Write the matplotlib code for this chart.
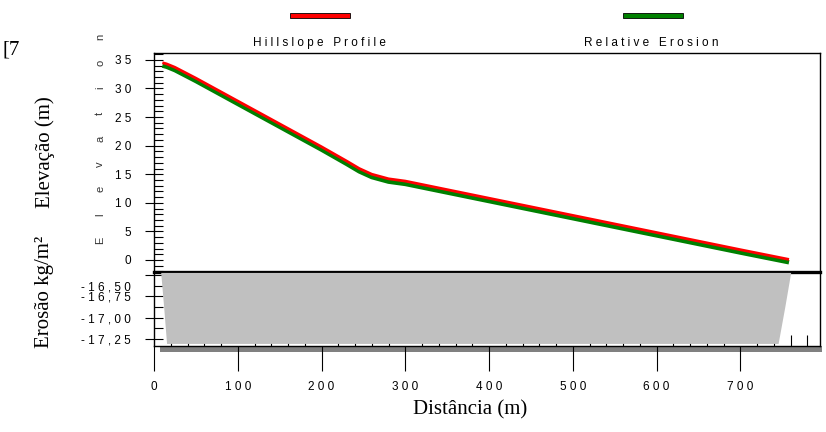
import matplotlib
matplotlib.use('Agg')
import matplotlib.pyplot as plt
from matplotlib.patches import Rectangle
from matplotlib.ticker import FixedLocator, MultipleLocator, FixedFormatter
from matplotlib.transforms import ScaledTranslation

# hillslope profile (distance m, elevation m)
dist = [10, 15, 25, 50, 100, 150, 200, 230, 245, 260, 280, 300, 400, 500, 600, 700, 758]
profile = [34.5, 34.3, 33.7, 31.8, 27.8, 23.8, 19.8, 17.3, 16.0, 15.0, 14.2, 13.8, 10.8, 7.8, 4.8, 1.8, 0.1]
rel_erosion = [34.0, 33.8, 33.2, 31.3, 27.3, 23.3, 19.3, 16.8, 15.5, 14.5, 13.7, 13.3, 10.3, 7.3, 4.3, 1.3, -0.4]

# erosion band in lower panel
ero_y = [-16.47, -16.87, -17.30]
ero_left = [8, 11.5, 15]
ero_right = [760, 753, 745]

elev_ticks = [0, 5, 10, 15, 20, 25, 30, 35]
ero_ticks = [-17.25, -17.0, -16.75, -16.5]
ero_labels = ['-17,25', '-17,00', '-16,75', '-16,50']
dist_ticks = [0, 100, 200, 300, 400, 500, 600, 700]

NARROW = ['Liberation Sans Narrow', 'Liberation Sans', 'DejaVu Sans']
SERIF = ['Liberation Serif', 'DejaVu Serif']
W, H = 826, 432
TICK_FS = 8.5


def spaced(s, gap=' '):
    return gap.join(list(s))


def fx(px):
    return px / W


def fy(py):
    return 1 - py / H


fig = plt.figure(figsize=(8.26, 4.32), dpi=100)

ax_top = fig.add_axes([fx(154), fy(272), (820 - 154) / W, (272 - 53) / H])
ax_bot = fig.add_axes([fx(154), fy(346), (820 - 154) / W, (346 - 272) / H])

# --- upper panel
ax_top.plot(dist, rel_erosion, color='#008000', lw=3.2, solid_capstyle='butt')
ax_top.plot(dist, profile, color='#ff0000', lw=2.0, solid_capstyle='butt')
ax_top.set_xlim(0, 795)
ax_top.set_ylim(-2.1, 36.2)
ax_top.spines['bottom'].set_visible(False)
for s in ['top', 'left', 'right']:
    ax_top.spines[s].set_linewidth(1.0)
ax_top.set_xticks([])
ax_top.yaxis.set_major_locator(FixedLocator(elev_ticks))
ax_top.yaxis.set_major_formatter(FixedFormatter([spaced(str(v)) for v in elev_ticks]))
ax_top.yaxis.set_minor_locator(MultipleLocator(1))
ax_top.tick_params(axis='y', which='major', direction='inout', length=13, width=0.8, pad=10)
ax_top.tick_params(axis='y', which='minor', direction='in', length=6.5, width=0.8)
for lab in ax_top.get_yticklabels():
    lab.set_family(NARROW)
    lab.set_fontsize(TICK_FS)

# --- lower panel
ax_bot.fill_betweenx(ero_y, ero_left, ero_right, color='#c0c0c0', lw=0, zorder=3)
ax_bot.set_xlim(0, 795)
ax_bot.set_ylim(-17.33, -16.465)
ax_bot.spines['top'].set_linewidth(2.4)
for s in ['bottom', 'left', 'right']:
    ax_bot.spines[s].set_linewidth(1.0)
ax_bot.yaxis.set_major_locator(FixedLocator(ero_ticks))
ax_bot.yaxis.set_major_formatter(FixedFormatter([spaced(v) for v in ero_labels]))
ax_bot.yaxis.set_minor_locator(MultipleLocator(0.125))
ax_bot.xaxis.set_major_locator(FixedLocator(dist_ticks))
ax_bot.xaxis.set_major_formatter(FixedFormatter([spaced(str(v)) for v in dist_ticks]))
ax_bot.xaxis.set_minor_locator(MultipleLocator(20))
ax_bot.tick_params(axis='y', which='major', direction='inout', length=13, width=0.8, pad=10)
ax_bot.tick_params(axis='y', which='minor', direction='in', length=6.5, width=0.8)
ax_bot.tick_params(axis='x', which='major', direction='out', length=18, width=0.8, pad=7)
ax_bot.tick_params(axis='x', which='minor', direction='in', length=8, width=0.8)
for lab in ax_bot.get_yticklabels() + ax_bot.get_xticklabels():
    lab.set_family(NARROW)
    lab.set_fontsize(TICK_FS)

# the -16,50 label sits lower in the original
top_tick = ax_bot.yaxis.get_major_ticks()[-1]
top_tick.label1.set_transform(top_tick.label1.get_transform()
                              + ScaledTranslation(0, -11 / 100, fig.dpi_scale_trans))

# drop shadow under the frame
fig.add_artist(Rectangle((fx(160), fy(352)), (822 - 160) / W, 6 / H,
                         transform=fig.transFigure, facecolor='#808080',
                         edgecolor='none', zorder=-1))

# legend
fig.add_artist(Rectangle((fx(290), fy(18)), 60 / W, 5 / H, transform=fig.transFigure,
                         facecolor='#ff0000', edgecolor='black', lw=0.6))
fig.add_artist(Rectangle((fx(623), fy(18)), 60 / W, 5 / H, transform=fig.transFigure,
                         facecolor='#008000', edgecolor='black', lw=0.6))
fig.text(fx(319), fy(43), 'H i l l s l o p e   P r o f i l e', ha='center', va='center',
         family=NARROW, fontsize=8.5)
fig.text(fx(651), fy(43), 'R e l a t i v e   E r o s i o n', ha='center', va='center',
         family=NARROW, fontsize=8.5)

# axis titles
fig.text(fx(470), fy(410), 'Distância (m)', ha='center', va='center', family=SERIF, fontsize=15)
fig.text(fx(45), fy(152), 'Elevação (m)', ha='center', va='center', rotation=90,
         family=SERIF, fontsize=15)
fig.text(fx(45), fy(292), 'Erosão kg/m²', ha='center', va='center', rotation=90,
         family=SERIF, fontsize=15)
fig.text(fx(2), fy(50), '[7', ha='left', va='center', family=SERIF, fontsize=15)

word = 'Elevation'
for i, ch in enumerate(word):
    fig.text(fx(100), fy(240 - i * (240 - 37) / (len(word) - 1)), ch, ha='center', va='center',
             rotation=90, family=NARROW, fontsize=8, color='#333333')

fig.savefig('out.png', dpi=100)
